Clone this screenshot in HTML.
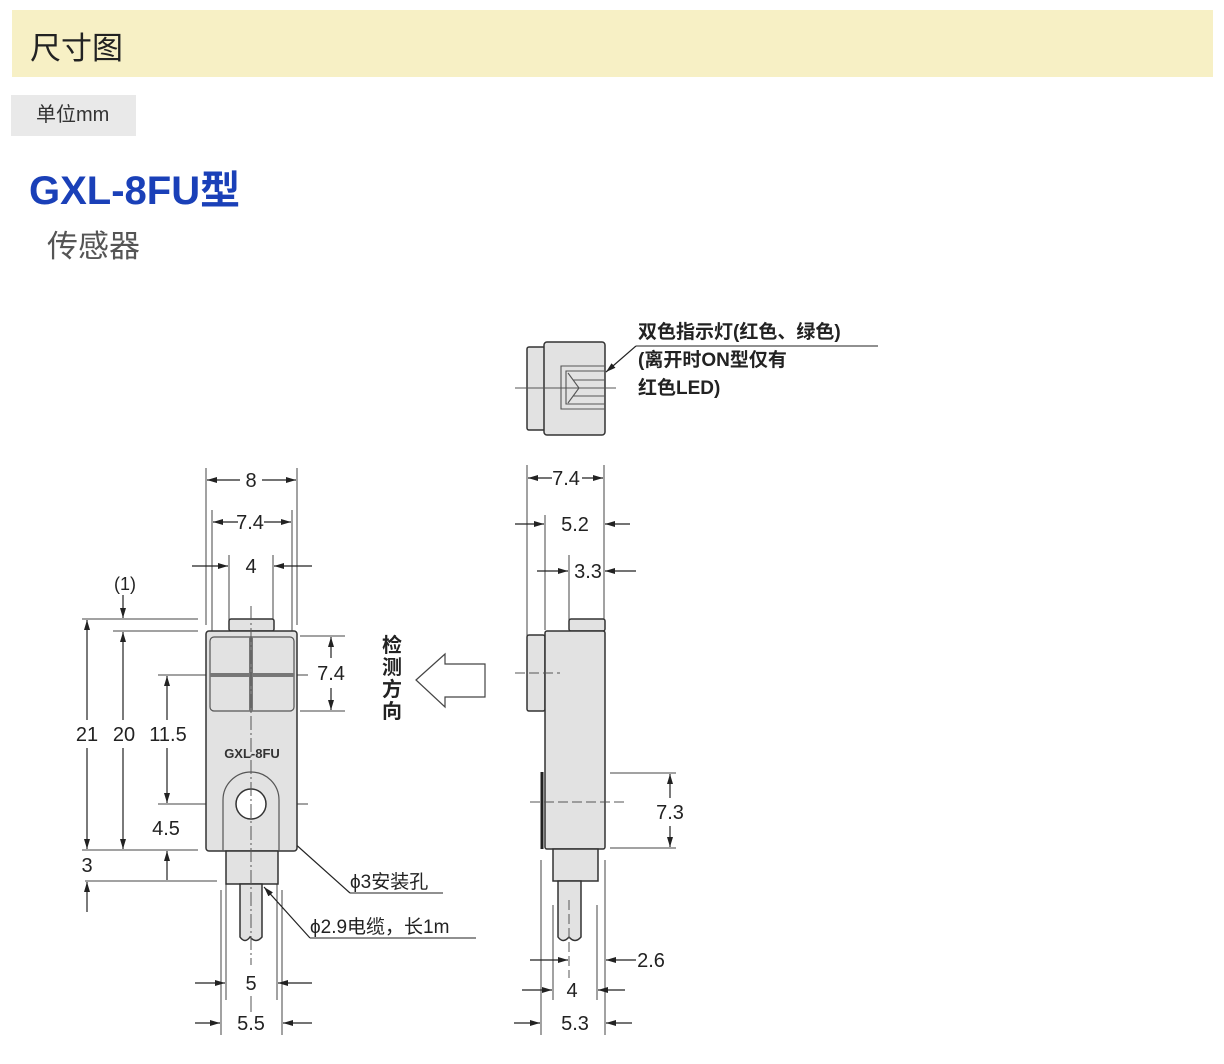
<!DOCTYPE html>
<html><head><meta charset="utf-8">
<style>
body{margin:0;background:#fff;width:1224px;height:1064px;overflow:hidden;font-family:"Liberation Sans","Noto Sans CJK SC",sans-serif;}
.hdr{position:absolute;left:12px;top:10px;width:1201px;height:67px;background:#f7f0c5;}
.hdr span{position:absolute;left:18px;top:13px;font-size:31px;color:#222;}
.unit{position:absolute;left:11px;top:95px;width:125px;height:41px;background:#e9e9e9;font-size:20px;color:#333;line-height:41px;text-indent:25px;}
.t1{position:absolute;left:29px;top:158px;font-size:40px;font-weight:bold;color:#1a40b8;}
.t2{position:absolute;left:47px;top:221px;font-size:31px;color:#555;}
svg{position:absolute;left:0;top:0;}
</style></head><body>
<div class="hdr"><span>尺寸图</span></div>
<div class="unit">单位mm</div>
<div class="t1">GXL-8FU型</div>
<div class="t2">传感器</div>
<svg width="1224" height="1064" viewBox="0 0 1224 1064" font-family="Liberation Sans, Noto Sans CJK SC, sans-serif">
<defs>
<marker id="a" markerWidth="10" markerHeight="6" refX="10" refY="3" orient="auto" markerUnits="userSpaceOnUse"><path d="M0,0 L10,3 L0,6 Z" fill="#222"/></marker>
</defs>
<g stroke="#444" stroke-width="1" fill="none">
<line x1="206" y1="468" x2="206" y2="625"/><line x1="297" y1="468" x2="297" y2="625"/>
<line x1="212" y1="510" x2="212" y2="636"/><line x1="292" y1="510" x2="292" y2="636"/>
<line x1="229" y1="555" x2="229" y2="620"/><line x1="273" y1="555" x2="273" y2="620"/>
<line x1="82" y1="619" x2="198" y2="619"/><line x1="113" y1="631" x2="198" y2="631"/>
<line x1="82" y1="850" x2="198" y2="850"/><line x1="85" y1="881" x2="217" y2="881"/>
<line x1="300" y1="636" x2="345" y2="636"/><line x1="300" y1="711" x2="345" y2="711"/>
<line x1="158" y1="675" x2="308" y2="675"/><line x1="158" y1="804" x2="308" y2="804"/>
<line x1="226" y1="860" x2="226" y2="1000"/><line x1="277" y1="860" x2="277" y2="1000"/>
<line x1="221" y1="890" x2="221" y2="1035"/><line x1="282" y1="890" x2="282" y2="1035"/>
</g>
<g stroke="#222" stroke-width="1.2" marker-end="url(#a)">
<line x1="240" y1="480" x2="207" y2="480"/><line x1="262" y1="480" x2="296" y2="480"/>
<line x1="238" y1="522" x2="213" y2="522"/><line x1="264" y1="522" x2="291" y2="522"/>
<line x1="192" y1="566" x2="228" y2="566"/><line x1="312" y1="566" x2="274" y2="566"/>
<line x1="123" y1="595" x2="123" y2="618"/>
<line x1="87" y1="720" x2="87" y2="620"/><line x1="87" y1="748" x2="87" y2="849"/>
<line x1="123" y1="720" x2="123" y2="632"/><line x1="123" y1="748" x2="123" y2="849"/>
<line x1="167" y1="720" x2="167" y2="676"/><line x1="167" y1="748" x2="167" y2="803"/>
<line x1="167" y1="880" x2="167" y2="851"/><line x1="87" y1="912" x2="87" y2="882"/>
<line x1="331" y1="658" x2="331" y2="637"/><line x1="331" y1="688" x2="331" y2="710"/>
<line x1="195" y1="983" x2="225" y2="983"/><line x1="312" y1="983" x2="278" y2="983"/>
<line x1="195" y1="1023" x2="220" y2="1023"/><line x1="312" y1="1023" x2="283" y2="1023"/>
<line x1="350" y1="893" x2="264" y2="816"/><line x1="310" y1="938" x2="264" y2="887"/>
</g>
<g stroke="#222" stroke-width="1"><line x1="350" y1="893" x2="443" y2="893"/><line x1="310" y1="938" x2="476" y2="938"/></g>
<g stroke="#333" stroke-width="1.5" fill="#e2e2e2">
<rect x="229" y="619" width="45" height="12" rx="2"/>
<rect x="206" y="631" width="91" height="220" rx="3"/>
<rect x="226" y="851" width="52" height="33"/>
<path d="M240,884 V937 Q245,944 250,937 Q256,944 262,937 V884 Z"/>
</g>
<rect x="210" y="637" width="84" height="74" rx="4" fill="#e2e2e2" stroke="#555" stroke-width="1.2"/>
<g stroke="#777" stroke-width="4"><line x1="251" y1="637" x2="251" y2="711"/><line x1="210" y1="675" x2="294" y2="675"/></g>
<path d="M223,851 V800 A28,28 0 0 1 279,800 V851" fill="none" stroke="#555" stroke-width="1.2"/>
<circle cx="251" cy="804" r="15" fill="#fff" stroke="#333" stroke-width="1.5"/>
<line x1="251" y1="606" x2="251" y2="965" stroke="#555" stroke-width="1" stroke-dasharray="14,3,2,3"/>
<line x1="251" y1="996" x2="251" y2="1012" stroke="#555" stroke-width="1"/>
<text x="252" y="758" font-size="13" font-weight="bold" fill="#333" text-anchor="middle">GXL-8FU</text>
<g font-size="20" fill="#222" text-anchor="middle">
<text x="251" y="487">8</text><text x="250" y="529">7.4</text><text x="251" y="573">4</text>
<text x="125" y="590" font-size="18">(1)</text>
<text x="87" y="741">21</text><text x="124" y="741">20</text><text x="168" y="741">11.5</text>
<text x="166" y="835">4.5</text><text x="87" y="872">3</text>
<text x="331" y="680">7.4</text>
<text x="251" y="990">5</text><text x="251" y="1030">5.5</text>
</g>
<g font-size="20" font-weight="bold" fill="#222" text-anchor="middle">
<text x="392" y="652">检</text><text x="392" y="674">测</text><text x="392" y="696">方</text><text x="392" y="718">向</text>
</g>
<path d="M416,680 L445,654 V664 H485 V697 H445 V707 Z" fill="#fff" stroke="#444" stroke-width="1.2"/>
<g font-size="19" fill="#222"><text x="350" y="888">ϕ3安装孔</text><text x="310" y="933">ϕ2.9电缆，长1m</text></g>
<g stroke="#333" stroke-width="1.5" fill="#e2e2e2">
<rect x="527" y="347" width="18" height="83" rx="2"/>
<rect x="544" y="342" width="61" height="93" rx="3"/>
</g>
<g stroke="#555" stroke-width="1.1" fill="none">
<path d="M605,366 H561 V409 H605"/><path d="M605,371 H566 V404 H605"/>
<path d="M568,373 L579,388 L568,403"/><line x1="573" y1="380" x2="605" y2="380"/><line x1="573" y1="396" x2="605" y2="396"/>
<line x1="515" y1="388" x2="616" y2="388"/>
</g>
<line x1="636" y1="346" x2="606" y2="372" stroke="#222" stroke-width="1.2" marker-end="url(#a)"/>
<line x1="636" y1="346" x2="878" y2="346" stroke="#222" stroke-width="1"/>
<g font-size="19" font-weight="bold" fill="#222"><text x="638" y="338">双色指示灯(红色、绿色)</text><text x="638" y="366">(离开时ON型仅有</text><text x="638" y="394">红色LED)</text></g>
<g stroke="#444" stroke-width="1" fill="none">
<line x1="527" y1="465" x2="527" y2="650"/><line x1="604" y1="465" x2="604" y2="625"/>
<line x1="545" y1="515" x2="545" y2="630"/><line x1="569" y1="555" x2="569" y2="620"/>
<line x1="610" y1="773" x2="676" y2="773"/><line x1="610" y1="848" x2="676" y2="848"/>
<line x1="541" y1="860" x2="541" y2="1035"/><line x1="553" y1="905" x2="553" y2="1000"/>
<line x1="597" y1="905" x2="597" y2="1000"/><line x1="605" y1="860" x2="605" y2="1035"/>
</g>
<g stroke="#333" stroke-width="1.5" fill="#e2e2e2">
<rect x="569" y="619" width="36" height="12" rx="2"/>
<rect x="527" y="635" width="18" height="76" rx="2"/>
<rect x="545" y="631" width="60" height="218" rx="2"/>
<rect x="553" y="849" width="45" height="32"/>
<path d="M558,881 V937 Q563,944 569,937 Q575,944 581,937 V881 Z"/>
</g>
<line x1="542" y1="772" x2="542" y2="849" stroke="#222" stroke-width="3"/>
<g stroke="#555" stroke-width="1" stroke-dasharray="10,4">
<line x1="515" y1="673" x2="560" y2="673"/><line x1="530" y1="802" x2="628" y2="802"/>
<line x1="569" y1="900" x2="569" y2="978"/>
</g>
<g stroke="#222" stroke-width="1.2" marker-end="url(#a)">
<line x1="552" y1="478" x2="528" y2="478"/><line x1="582" y1="478" x2="603" y2="478"/>
<line x1="515" y1="524" x2="544" y2="524"/><line x1="630" y1="524" x2="605" y2="524"/>
<line x1="537" y1="571" x2="568" y2="571"/><line x1="636" y1="571" x2="605" y2="571"/>
<line x1="670" y1="798" x2="670" y2="774"/><line x1="670" y1="826" x2="670" y2="847"/>
<line x1="530" y1="960" x2="568" y2="960"/><line x1="636" y1="960" x2="606" y2="960"/>
<line x1="522" y1="990" x2="552" y2="990"/><line x1="625" y1="990" x2="598" y2="990"/>
<line x1="514" y1="1023" x2="540" y2="1023"/><line x1="632" y1="1023" x2="606" y2="1023"/>
</g>
<g font-size="20" fill="#222" text-anchor="middle">
<text x="566" y="485">7.4</text><text x="575" y="531">5.2</text><text x="588" y="578">3.3</text>
<text x="670" y="819">7.3</text><text x="651" y="967">2.6</text><text x="572" y="997">4</text><text x="575" y="1030">5.3</text>
</g>
</svg>
</body></html>
